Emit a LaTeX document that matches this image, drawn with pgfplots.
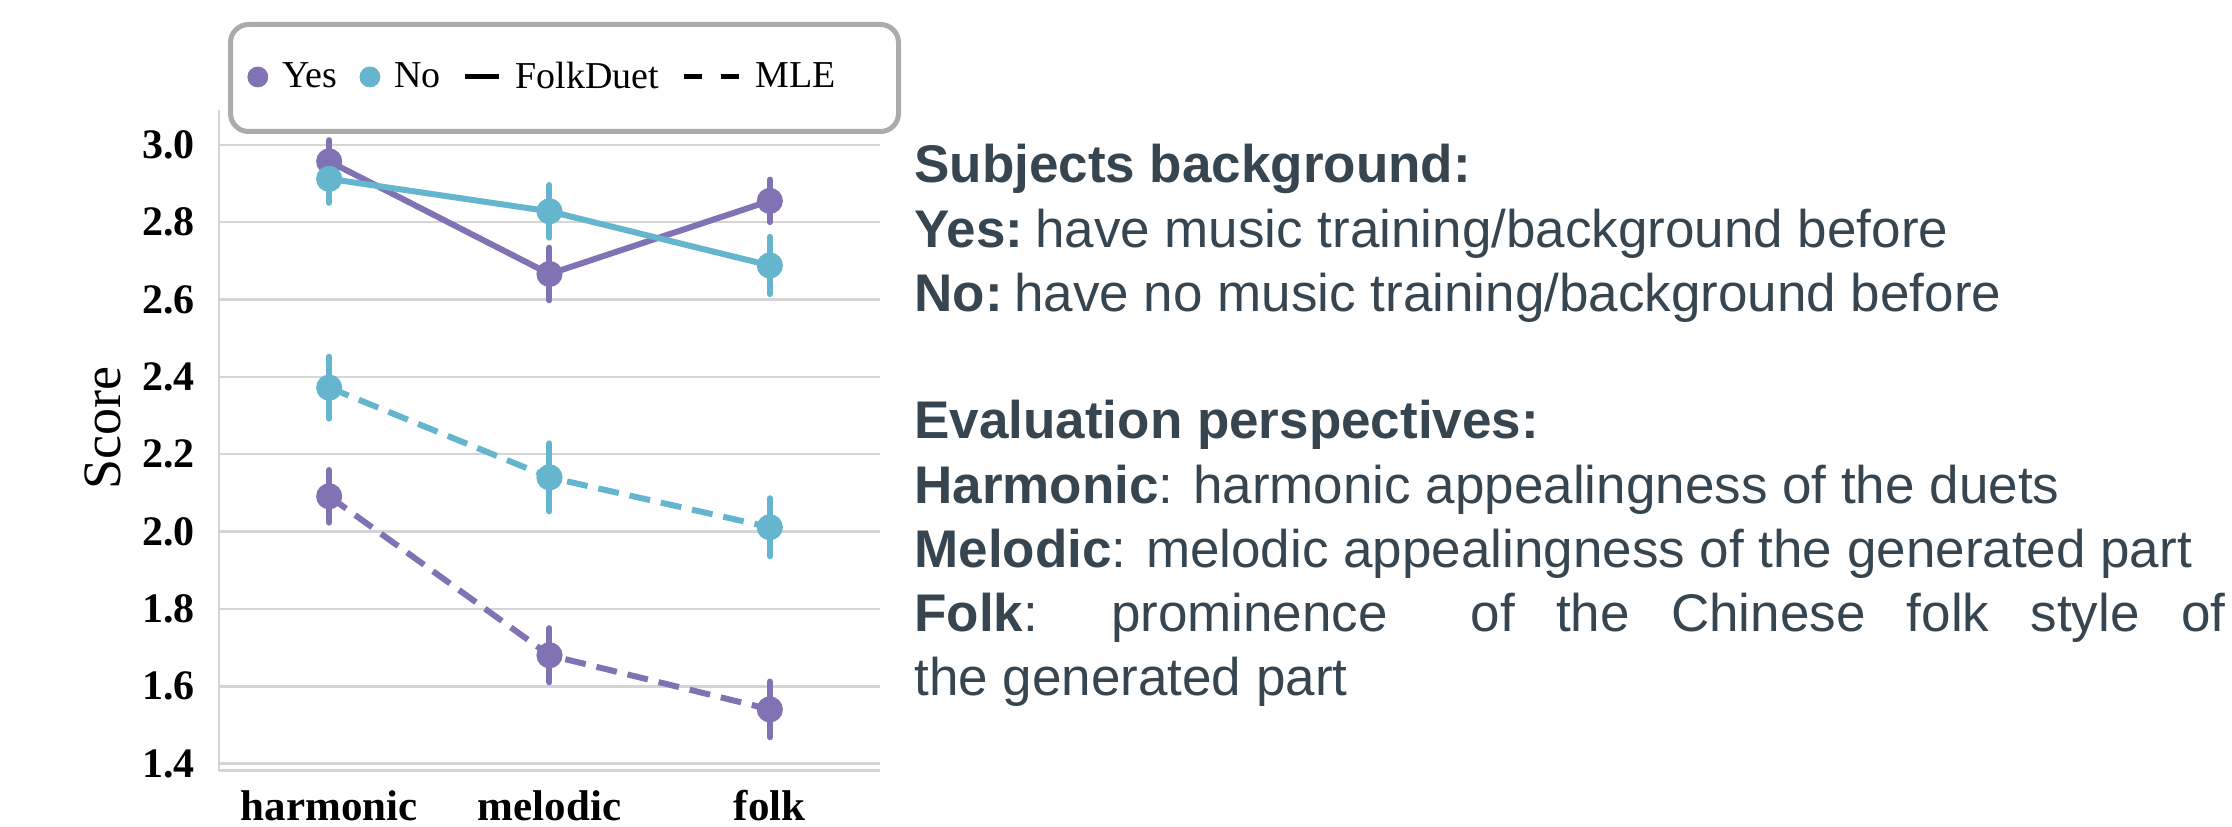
\documentclass[border=0pt]{standalone}
\usepackage{pgfplots}
\pgfplotsset{compat=1.18}
\usepackage{fontspec}
\setmainfont{Liberation Serif}
\newfontfamily\arialfont{Liberation Sans}
\definecolor{cpurple}{HTML}{8172B3}
\definecolor{ccyan}{HTML}{64B5CD}
\definecolor{txt}{HTML}{36454F}
\definecolor{gridc}{HTML}{D5D5D5}
\definecolor{legc}{HTML}{ABABAB}
\pgfplotsset{
  serie/.style={color=#1, line width=3pt, mark=*, mark size=5pt,
    mark options={solid, draw=#1, fill=#1}, forget plot,
    error bars/y dir=both, error bars/y explicit, error bars/error mark=none,
    error bars/error bar style={line width=3pt, line cap=round, solid, draw=#1}},
}
\begin{document}
\begin{tikzpicture}
\path[use as bounding box] (-109.5pt,-27.75pt) rectangle (1006.5pt,385.25pt);
\begin{axis}[
  at={(0pt,0pt)}, anchor=south west,
  scale only axis, width=330.5pt, height=330.25pt,
  xmin=-0.5, xmax=2.5, ymin=1.382, ymax=3.09,
  clip=false,
  xtick={0,1,2}, xticklabels={harmonic,melodic,folk},
  ytick={1.4,1.6,1.8,2.0,2.2,2.4,2.6,2.8,3.0},
  /pgf/number format/assume math mode=true,
  yticklabel style={/pgf/number format/fixed, /pgf/number format/fixed zerofill,
    /pgf/number format/precision=1,
    font=\fontsize{21}{24}\selectfont\bfseries, inner sep=0pt, xshift=-12pt},
  xticklabel style={font=\fontsize{21.5}{24}\selectfont\bfseries, inner sep=0pt, yshift=-9.75pt},
  major tick length=0pt,
  tick style={draw=none},
  axis lines*=left,
  axis line style={draw=gridc, line width=1.3pt},
  ymajorgrids,
  grid style={draw=gridc, line width=1.3pt},
  ylabel={Score},
  ylabel style={font=\fontsize{27}{30}\selectfont, at={(axis description cs:-0.1755,0.5185)}, rotate=0, anchor=center},
  legend columns=4,
  legend style={at={(axis description cs:0.0424,1.05)}, anchor=west, draw=none, fill=none,
    inner sep=0pt, font=\fontsize{19}{22}\selectfont, nodes={inner sep=0pt},
    /tikz/every odd column/.append style={column sep=7pt},
    /tikz/every even column/.append style={column sep=11pt}},
]
\addlegendimage{legend image code/.code={\fill[cpurple] (5pt,0pt) circle (5pt);}}
\addlegendentry{Yes}
\addlegendimage{legend image code/.code={\fill[ccyan] (5pt,0pt) circle (5pt);}}
\addlegendentry{No}
\addlegendimage{legend image code/.code={\draw[black, line width=2.5pt] (0pt,0pt) -- (17pt,0pt);}}
\addlegendentry{FolkDuet}
\addlegendimage{legend image code/.code={\draw[black, line width=2.5pt, dash pattern=on 9.17pt off 9.17pt] (0pt,0pt) -- (27.5pt,0pt);}}
\addlegendentry{MLE}

% FolkDuet, Yes
\addplot[serie=cpurple] coordinates {(0,2.957) +- (0,0.055) (1,2.666) +- (0,0.068) (2,2.855) +- (0,0.055)};
% FolkDuet, No
\addplot[serie=ccyan] coordinates {(0,2.912) +- (0,0.062) (1,2.828) +- (0,0.068) (2,2.688) +- (0,0.074)};
% MLE, Yes
\addplot[serie=cpurple, dash pattern=on 10.5pt off 5.5pt] coordinates {(0,2.091) +- (0,0.068) (1,1.680) +- (0,0.070) (2,1.540) +- (0,0.072)};
% MLE, No
\addplot[serie=ccyan, dash pattern=on 10.5pt off 5.5pt] coordinates {(0,2.372) +- (0,0.080) (1,2.140) +- (0,0.088) (2,2.011) +- (0,0.075)};
\end{axis}
\draw[legc, line width=2.5pt, rounded corners=9pt] (5.75pt,319.5pt) rectangle (339.75pt,373pt);
\begin{scope}[every node/.style={anchor=base west, inner sep=0pt, text=txt, font=\arialfont\fontsize{26.5}{30}\selectfont}]
\node at (347.5pt,293.75pt) {\bfseries Subjects background:};
\node at (347.5pt,261.75pt) {\textbf{Yes:}\hspace{0.22em}have music training/background before};
\node at (347.5pt,229.75pt) {\textbf{No:}\hspace{0.22em}have no music training/background before};
\node at (347.5pt,166.25pt) {\bfseries Evaluation perspectives:};
\node at (347.5pt,133.75pt) {\textbf{Harmonic}: harmonic appealingness of the duets};
\node at (347.5pt,101.75pt) {\textbf{Melodic}: melodic appealingness of the generated part};
\node at (347.5pt,69.75pt) {\makebox[655.5pt][s]{\textbf{Folk}: prominence\ \ of the Chinese folk style of}};
\node at (347.5pt,37.75pt) {the generated part};
\end{scope}
\end{tikzpicture}
\end{document}
